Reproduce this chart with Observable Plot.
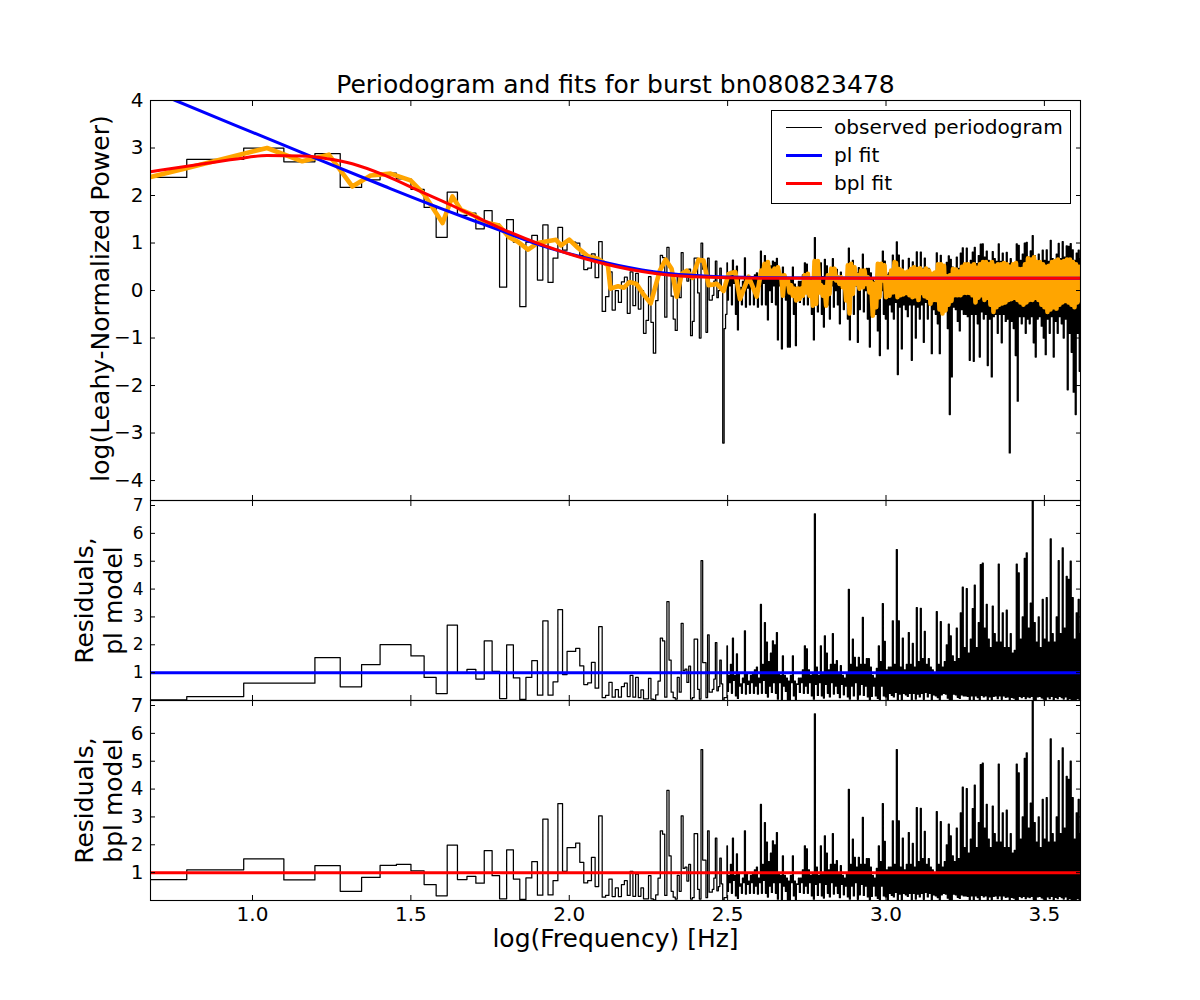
<!DOCTYPE html>
<html><head><meta charset="utf-8">
<script src="https://cdn.jsdelivr.net/npm/d3@7"></script>
<script src="https://cdn.jsdelivr.net/npm/@observablehq/plot@0.6"></script>
<style>
html,body{margin:0;padding:0;background:#fff;overflow:hidden;font-family:"DejaVu Sans",sans-serif;}
#page{position:relative;width:1200px;height:1000px;}
#page>div.panel{position:absolute;left:0;}
svg{display:block;background:transparent;}
#title{position:absolute;left:0;width:1231px;top:70px;text-align:center;font-size:25px;color:#000;}
#legend{position:absolute;left:771px;top:110px;width:298px;height:92px;background:#fff;border:1px solid #000;font-size:20.1px;color:#000;z-index:5;}
#legend .k{position:absolute;left:14px;width:36px;}
#legend .t{position:absolute;left:62px;line-height:24px;white-space:nowrap;}
</style></head><body>
<div id="page">
<div id="title">Periodogram and fits for burst bn080823478</div>
<div id="legend">
<div class="k" style="top:16px;height:1px;background:#000"></div><div class="t" style="top:4px">observed periodogram</div>
<div class="k" style="top:43px;height:3px;background:#00f"></div><div class="t" style="top:32px">pl fit</div>
<div class="k" style="top:71px;height:3px;background:#f00"></div><div class="t" style="top:60px">bpl fit</div>
</div>
</div>
<script>
// Fourier bins k = 2..99, read bin by bin
const binSpacing = 3.18, binShift = 0.05;
const logPowerLow = [
2.38,2.76,3.00,2.71,2.88,2.17,2.33,2.47,2.35,2.13,
1.75,1.12,2.07,1.58,1.63,1.30,1.68,1.40,.07,1.49,
1.02,-.34,1.02,1.16,.22,1.38,.17,.68,1.33,.85,
1.02,1.02,1.00,.74,.44,.47,.77,.27,1.03,-.44,
-.13,.39,-.41,0,-.25,.18,.28,-.48,.39,-.32,
.36,-.39,0,-.90,-.63,.29,-.67,-1.32,-.21,.33,
.74,.69,-.56,.91,.50,-.12,-.60,-.84,.30,-.15,
.80,.40,.42,.20,.45,-.95,-.65,.68,.68,-.05,
-1.0,1.0,.45,.45,-.88,.68,-.2,-.2,-.1,.2,
.62,-.15,0,.47,.05,-3.21,-.8,-.5];
const residPlLow = [
.02,.14,.62,.62,1.54,.49,1.29,2.01,2.01,1.6,
.83,.25,2.71,1.0,1.12,.77,2.14,1.05,.07,2.0,
.81,.04,.83,1.43,.19,2.86,.19,.67,3.26,.93,
1.76,1.76,1.87,1.24,.57,.63,1.37,.44,2.65,.1,
.18,.65,.12,.39,.12,.5,.62,.14,.9,.12,
.83,.1,.38,.06,.06,.79,.05,.02,.2,.7,
2.24,2.14,.12,3.55,1.45,.3,.1,.05,.83,.3,
2.77,1.07,1.13,.65,1.23,.05,.1,2.2,2.2,.4,
.05,5.02,1.36,1.36,.1,2.36,.3,.3,.4,.77,
2.08,.35,.5,1.45,.6,.002,.1,.1];
const residBplLow = [
.75,1.10,1.49,.74,1.25,.33,.83,1.26,1.30,1.06,
.57,.17,1.99,.75,.87,.62,1.79,.89,.06,1.82,
.77,.04,.81,1.4,.19,2.92,.2,.71,3.48,1.05,
1.9,1.9,2.06,1.37,.63,.71,1.55,.5,3.04,.12,
.18,.77,.14,.45,.14,.57,.71,.18,1.05,.15,
.95,.15,.45,.06,.06,.89,.06,.02,.2,.8,
2.5,2.38,.18,3.95,1.6,.33,.12,.05,.9,.33,
3.04,1.15,1.2,.7,1.3,.05,.1,2.4,2.4,.4,
.05,5.42,1.45,1.45,.1,2.5,.3,.3,.4,.8,
2.24,.35,.5,1.52,.6,.002,.1,.1];

// Above log f = 2.5 the bins merge: peak residual and lowest log power per narrow column
const denseStart = 2.4994, denseStep = 0.00631;
const denseResidPeak = [
1.96,.9,1.3,2.24,.9,1.67,1.0,.6,.8,2.5,
1.0,.7,.9,1.0,1.1,1.2,.8,3.45,1.3,2.8,
2.1,1.4,1.7,2.14,2.0,2.44,1.0,.9,1.6,.9,
.8,.7,.9,1.6,.7,.6,.8,.8,1.1,1.96,
1.85,1.1,.9,1.0,6.7,1.2,.9,1.96,1.0,2.32,
1.7,1.1,1.3,2.4,1.3,1.43,1.0,1.25,.9,.8,
1.0,3.99,1.3,2.2,1.55,1.2,1.55,1.3,2.98,1.3,
1.5,1.5,1.2,.9,.8,1.15,1.96,1.4,3.48,2.12,
1.1,1.2,1.2,2.86,1.3,5.42,2.86,1.2,2.24,1.1,
1.3,2.44,1.3,2.05,1.2,3.33,1.4,3.31,1.5,2.48,
1.3,1.5,1.2,1.1,1.0,3.19,1.3,2.83,1.2,1.4,
2.0,2.74,2.32,1.6,1.4,2.6,1.5,3.15,4.07,1.9,
4.02,1.7,2.2,3.3,4.14,1.9,2.8,4.88,4.93,2.6,
3.45,2.2,1.9,3.39,2.4,2.1,4.9,2.1,3.15,1.9,
3.24,1.9,2.4,1.7,1.8,4.9,4.58,2.2,3.0,5.1,
5.3,2.6,3.5,7.3,2.8,2.1,3.0,1.9,3.63,2.2,
3.69,2.1,5.8,2.4,2.1,3.0,5.02,2.4,5.48,2.6,
4.46,4.35,5.0,3.69,2.2,3.15,3.63,2.4];
const denseLogLow = [
-.2,.1,-.3,.15,-.5,-.83,0,-.3,.1,-.35,
.05,-.3,.1,-.3,0,-.35,.1,-.3,.15,-.3,
-.62,0,-.25,.1,-.3,-1.04,.1,-1.23,0,-.2,
-1.19,-1.19,.1,-.5,-1.16,.05,-.25,.1,-.3,0,
-.3,.1,-.5,-1.04,.05,-.45,.1,-.5,-.77,.05,
-.3,-.6,.1,-.35,0,-.3,-.7,.05,-.4,0,
-.6,-1.04,0,-.5,.1,-1.09,-.4,.05,-.45,0,
-.6,-1.19,-.55,0,-.5,-.85,-1.37,0,-.5,-.6,
-1.23,-.3,-.45,-.6,-.25,-1.77,-.35,-1.23,-.3,-.4,
-.55,-.3,-1.47,-.3,-1.0,-.35,-.6,-.3,-1.09,-.25,
-.6,-.3,-1.33,-.4,-.5,-.7,-1.33,-.4,-.3,-.35,
-.8,-2.61,-1.82,-.35,-.4,-.65,-.85,-.4,-.5,-.5,
-.55,-1.47,-.5,-1.49,-.5,-.7,-1.4,-.45,-.6,-.5,
-1.58,-.6,-1.82,-.55,-.5,-.9,-.5,-1.1,-.5,-.65,
-.6,-3.42,-.65,-.8,-1.37,-2.33,-.55,-.7,-.55,-.9,
-.6,-.7,-.55,-1.1,-1.4,-.6,-.55,-.75,-1.0,-1.35,
-.6,-.9,-.55,-1.4,-.65,-.9,-.55,-.7,-1.0,-.6,
-2.09,-.9,-1.3,-2.14,-2.61,-.9,-1.7,-.8];
const logFloor = 0.29;

// Smoothed periodogram
const smoothF = [.678,.788,.972,1.046,1.157,1.241,1.315,1.373,1.436,1.499,1.54,1.6,1.631,1.658,1.70,1.73,1.778,1.81,1.837,1.87,1.90,1.958,1.974,2.0,2.027,2.059,2.09,2.122,2.13,2.154,2.173,2.19,2.212,2.233,2.257,2.286,2.304,2.323,2.339,2.355,2.371,2.389,2.408,2.424,2.44,2.466,2.487,2.503,2.524,2.539,2.566,2.592];
const smoothV = [2.39,2.57,2.88,3.0,2.72,2.86,2.19,2.42,2.46,2.32,2.04,1.42,1.98,1.70,1.58,1.44,1.37,1.12,1.03,.86,1.0,1.07,.95,1.07,.90,.72,.67,.53,.04,.09,.06,.18,.14,-.07,-.27,.42,.65,.46,-.13,.35,.42,.27,.65,.63,.11,.14,-.01,.35,.39,-.18,.29,-.13];
const smoothMidStart = 2.606, smoothMidStep = 0.01052;
const smoothMidUpper = [.42,.56,.6,.42,.46,.49,.32,.32,.21,.11,.04,.04,.04,.32,.35,.18,.62,.62,.11,.07,.32,.46,.46,.28,.28,.25,.53,.56,.49,.32,.42,.42,.28,.18,.14,.56,.56,.53,.28,.42,.6];
const smoothMidLower = [.32,.32,.32,.32,.32,.32,-.11,.14,-.04,-.11,-.21,-.18,-.11,-.04,-.11,-.32,-.28,-.04,-.11,-.32,-.07,.25,.21,.14,.07,-.21,-.48,-.07,.14,.04,.07,.14,-.04,-.53,-.35,-.14,.21,-.14,-.11,-.04,-.04];
const smoothDenseStart = 3.0315, smoothDenseStep = 0.00947;
const smoothUpper = [.58,.45,.42,.38,.40,.45,.49,.45,.47,.42,.46,.42,.35,.38,.55,.55,.52,.30,.32,.45,.44,.40,.50,.55,.55,.52,.55,.48,.55,.60,.60,.55,.60,.52,.55,.55,.58,.55,.50,.55,.58,.45,.45,.55,.68,.65,.70,.60,.60,.55,.50,.52,.60,.62,.65,.60,.62,.65,.65,.60,.55,.50];
const smoothLower = [-.14,-.1,-.08,-.05,-.1,-.14,-.12,-.2,-.05,-.12,-.15,-.28,-.2,-.2,-.4,-.48,-.42,-.3,-.22,-.1,-.1,-.1,-.05,-.05,-.05,-.1,-.25,-.15,-.1,-.2,-.15,-.3,-.45,-.35,-.3,-.27,-.25,-.2,-.18,-.15,-.2,-.25,-.3,-.25,-.2,-.2,-.15,-.2,-.3,-.35,-.45,-.4,-.35,-.38,-.3,-.25,-.22,-.25,-.3,-.35,-.25,-.2];

// Fit curves
const plF = [.678,.757,1.0,1.2,1.415,1.594,1.69,1.784,1.91,2.05,2.23,2.39,2.61,3.0,3.614];
const plV = [4.22,4.0,3.33,2.78,2.2,1.73,1.49,1.26,.95,.69,.435,.32,.27,.26,.26];
const bplF = [.678,.788,.95,1.046,1.157,1.241,1.315,1.42,1.526,1.63,1.69,1.78,1.91,2.05,2.23,2.39,2.61,3.0,3.614];
const bplV = [2.5,2.61,2.77,2.84,2.83,2.77,2.67,2.42,2.1,1.79,1.6,1.32,.97,.67,.40,.29,.26,.26,.26];

const xTicks = [1,1.5,2,2.5,3,3.5];
const powerTicks = [-4,-3,-2,-1,0,1,2,3,4];
const residTicks = [1,2,3,4,5,6,7];
const xDomain = [.678,3.614];

const binX = k => Math.log10(binSpacing*(k-binShift));
function steps(lowValues, peakFn, lowFn){
  const rows=[{x:binX(1),y:lowValues[0]}];
  lowValues.forEach((v,i)=>rows.push({x:binX(i+2),y:v}));
  denseResidPeak.forEach((p,i)=>{
    const x=denseStart+denseStep*i;
    rows.push({x,y:peakFn(p)});
    rows.push({x:x+denseStep/2,y:lowFn(denseLogLow[i])});
  });
  return rows;
}
const pts=(xs,ys)=>xs.map((x,i)=>({x,y:ys[i]}));
const smoothRows=pts(smoothF,smoothV);
function addZigzag(start,step,upper,lower){
  upper.forEach((u,i)=>{
    const x=start+step*i;
    smoothRows.push({x,y:u});
    smoothRows.push({x:x+step/2,y:lower[i]});
  });
}
addZigzag(smoothMidStart,smoothMidStep,smoothMidUpper,smoothMidLower);
addZigzag(smoothDenseStart,smoothDenseStep,smoothUpper,smoothLower);
const powerRows=steps(logPowerLow,p=>Math.log10(p)+logFloor,l=>l);
const toResid=l=>Math.pow(10,l-logFloor);
const plRows=steps(residPlLow,p=>p,toResid);
const bplRows=steps(residBplLow,p=>p,toResid);

const TICK=5;
function axes(yTicks,fontY,showX){
  return [
    Plot.axisX(xTicks,{anchor:"bottom",tickSize:-TICK,tickPadding:showX?6+TICK:0,tickFormat:showX?d3.format(".1f"):()=>"",fontSize:20,label:null}),
    Plot.axisX(xTicks,{anchor:"top",tickSize:-TICK,tickFormat:()=>"",label:null}),
    Plot.axisY(yTicks,{anchor:"left",tickSize:-TICK,tickPadding:7+TICK,fontSize:fontY,label:null}),
    Plot.axisY(yTicks,{anchor:"right",tickSize:-TICK,tickFormat:()=>"",label:null}),
    Plot.frame({stroke:"#000",strokeWidth:1.1})
  ];
}
function panel(top,height,marginTop,marginBottom,yDomain,marks){
  const p=Plot.plot({width:1200,height,marginLeft:150,marginRight:120,marginTop,marginBottom,
    x:{domain:xDomain},y:{domain:yDomain},style:{background:"transparent",fontFamily:"DejaVu Sans",color:"#000",overflow:"visible"},marks});
  const d=document.createElement("div");d.className="panel";d.style.top=top+"px";d.appendChild(p);
  document.getElementById("page").appendChild(d);
}
const black=rows=>Plot.line(rows,{x:"x",y:"y",curve:"step-before",stroke:"#000",strokeWidth:1.25,clip:true});
panel(0,500,100,0,[-4.42,4],[
  black(powerRows),
  Plot.line(smoothRows,{x:"x",y:"y",stroke:"orange",strokeWidth:4.6,strokeLinejoin:"round",clip:true}),
  Plot.line(pts(plF,plV),{x:"x",y:"y",stroke:"#00f",strokeWidth:3,curve:"monotone-x",clip:true}),
  Plot.line(pts(bplF,bplV),{x:"x",y:"y",stroke:"#f00",strokeWidth:3,curve:"monotone-x",clip:true}),
  ...axes(powerTicks,20,false),
  Plot.text(["log(Leahy-Normalized Power)"],{frameAnchor:"left",textAnchor:"middle",rotate:-90,dx:-50,dy:-2,fontSize:25,fill:"#000"})
]);
panel(500,200,0,0,[0,7.18],[
  black(plRows),
  Plot.ruleY([1],{stroke:"#00f",strokeWidth:3}),
  ...axes(residTicks,17,false),
  Plot.text(["Residuals,\npl model"],{frameAnchor:"left",textAnchor:"middle",rotate:-90,dx:-52,fontSize:25,lineHeight:1.15,fill:"#000"})
]);
panel(700,300,0,100,[0,7.18],[
  black(bplRows),
  Plot.ruleY([1],{stroke:"#f00",strokeWidth:3}),
  ...axes(residTicks,20,true),
  Plot.text(["Residuals,\nbpl model"],{frameAnchor:"left",textAnchor:"middle",rotate:-90,dx:-52,fontSize:25,lineHeight:1.15,fill:"#000"}),
  Plot.text(["log(Frequency) [Hz]"],{frameAnchor:"bottom",dy:46,fontSize:25,fill:"#000"})
]);
</script>
</body></html>
